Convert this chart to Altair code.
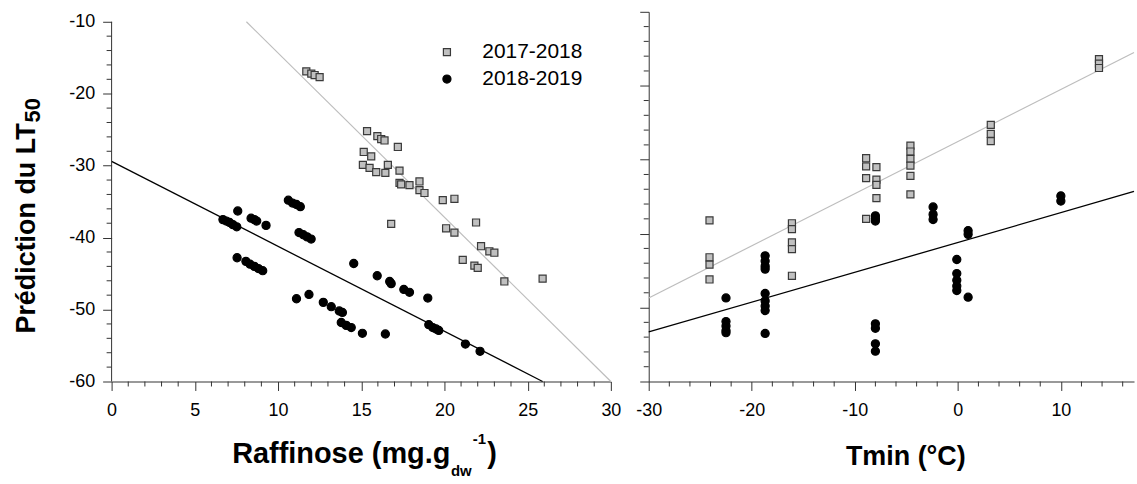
import altair as alt
import pandas as pd

FONT = "Liberation Sans"
SERIES = ["2017-2018", "2018-2019"]

# ---------------- left panel : Raffinose ----------------
raf_1718 = [11.7, 12.0, 12.2, 12.5, 15.35, 15.97, 16.2, 16.4, 17.2,
            15.15, 15.6, 15.1, 15.5, 15.9, 16.45, 16.6, 17.3,
            17.3, 17.4, 17.9, 18.5, 18.5, 18.8,
            19.9, 20.6, 16.8, 21.9, 20.1, 20.6,
            22.2, 22.7, 23.0, 21.1, 21.8, 22.0, 23.6, 25.9]
lt_raf_1718 = [-16.9, -17.2, -17.4, -17.7, -25.2, -25.9, -26.3, -26.5, -27.4,
               -28.1, -28.7, -29.9, -30.3, -30.9, -31.0, -29.9, -30.7,
               -32.4, -32.6, -32.7, -32.2, -33.4, -33.8,
               -34.8, -34.6, -38.1, -37.9, -38.7, -39.3,
               -41.2, -41.9, -42.1, -43.1, -43.9, -44.2, -46.1, -45.7]
raf_1819 = [6.69, 6.89, 7.09, 7.29, 7.52, 7.58, 8.38, 8.58, 8.72, 9.28,
            10.62, 10.87, 11.11, 11.34, 11.26, 11.52, 11.75, 11.99,
            7.54, 8.07, 8.32, 8.58, 8.82, 9.08, 14.55,
            11.11, 11.86, 12.72, 13.2, 13.68, 13.87,
            13.8, 14.1, 14.4, 15.07, 16.45,
            15.96, 16.71, 16.8, 17.56, 17.9, 19.0,
            19.06, 19.3, 19.5, 19.66, 21.26, 22.14]
lt_raf_1819 = [-37.5, -37.7, -37.9, -38.2, -38.5, -36.3, -37.3, -37.5, -37.7, -38.3,
               -34.8, -35.2, -35.4, -35.7, -39.3, -39.6, -39.9, -40.2,
               -42.8, -43.3, -43.7, -44.0, -44.3, -44.6, -43.6,
               -48.5, -47.9, -49.0, -49.6, -50.2, -50.4,
               -51.8, -52.2, -52.5, -53.3, -53.4,
               -45.3, -46.1, -46.4, -47.2, -47.6, -48.4,
               -52.1, -52.5, -52.7, -52.9, -54.8, -55.8]

# ---------------- right panel : Tmin ----------------
tmin_1718 = [-24.1, -24.1, -24.1, -24.1,
             -16.1, -16.1, -16.1, -16.1, -16.1,
             -8.9, -8.9, -8.9, -8.9,
             -7.9, -7.9, -7.9, -7.9,
             -4.6, -4.6, -4.6, -4.6, -4.6, -4.6,
             3.2, 3.2, 3.2,
             13.7, 13.7, 13.7]
lt_tmin_1718 = [-38.2, -43.2, -44.2, -46.2,
                -38.6, -39.4, -41.2, -42.1, -45.7,
                -29.8, -30.9, -32.5, -38.0,
                -31.0, -32.7, -33.4, -35.2,
                -28.1, -28.9, -29.9, -30.8, -32.2, -34.7,
                -25.3, -26.5, -27.5,
                -16.4, -17.0, -17.6]
tmin_1819 = [-22.5, -22.5, -22.5, -22.5, -22.5,
             -18.7, -18.7, -18.7, -18.7, -18.7, -18.7, -18.7, -18.7, -18.7,
             -8.0, -8.0, -8.0, -8.0, -8.0, -8.0, -8.0,
             -2.4, -2.4, -2.4,
             -0.1, -0.1, -0.1, -0.1, -0.1,
             1.0, 1.0, 1.0,
             10.0, 10.0]
lt_tmin_1819 = [-48.7, -51.9, -52.5, -53.1, -53.4,
                -43.0, -43.7, -44.4, -44.8, -48.1, -49.1, -49.8, -50.4, -53.5,
                -37.6, -38.0, -38.3, -52.2, -52.8, -54.9, -55.9,
                -36.4, -37.4, -38.1,
                -43.5, -45.4, -46.3, -47.1, -47.7,
                -39.6, -40.1, -48.6,
                -34.9, -35.6]

# ---------------- regression lines (end points) ----------------
fit_raf_x_1718 = [8.1, 30.0]
fit_raf_y_1718 = [-10.0, -60.0]
fit_raf_x_1819 = [0.0, 25.9]
fit_raf_y_1819 = [-29.4, -60.0]
fit_tmin_x_1718 = [-30.0, 17.1]
fit_tmin_y_1718 = [-48.7, -15.5]
fit_tmin_x_1819 = [-30.0, 17.1]
fit_tmin_y_1819 = [-53.3, -34.3]

# ---------------- ticks ----------------
raf_ticks = [0, 5, 10, 15, 20, 25, 30]
raf_minor = [v for v in range(1, 30) if v % 5]
tmin_ticks = [-30, -20, -10, 0, 10]
tmin_minor = [v for v in range(-28, 18, 2) if v % 10]
lt_ticks = [-60, -50, -40, -30, -20, -10]
lt_minor = [v for v in range(-58, -10, 2) if v % 10]

H = 371
W1 = 501
W2 = 487
AX = "#333333"


def pts_df(x1, y1, x2, y2):
    return pd.DataFrame({
        "x": x1 + x2,
        "y": y1 + y2,
        "series": [SERIES[0]] * len(x1) + [SERIES[1]] * len(x2),
    })


def text_layer(txt, x, y, size, angle=0, align="left"):
    kw = dict(font=FONT, fontSize=size, fontWeight="bold", color="black",
              align=align, baseline="alphabetic")
    if angle:
        kw["angle"] = angle
    return alt.Chart(pd.DataFrame({"t": [txt]})).mark_text(**kw).encode(
        text="t:N", x=alt.value(x), y=alt.value(y))


def panel(df, fits, xdom, xticks, xminor, W, ydom, left):
    xs = alt.Scale(domain=xdom, nice=False, zero=False)
    ys = alt.Scale(domain=ydom, nice=False, zero=False)
    xaxis = alt.Axis(values=xticks, title=None, labelExpr="'' + datum.value",
                     tickSize=9, labelPadding=11, labelFlush=False)
    if left:
        yaxis = alt.Axis(values=lt_ticks, title=None, domain=False,
                         labelExpr="'' + datum.value", tickSize=9, labelPadding=8)
        leg = alt.Legend(orient="none", legendX=326, legendY=30, title=None,
                         labelFontSize=21, labelFont=FONT, labelColor="black",
                         labelOffset=25, rowPadding=5, padding=0,
                         symbolStrokeWidth=1.2)
    else:
        yaxis = alt.Axis(values=lt_ticks, title=None, labels=False, tickSize=9)
        leg = None

    X = lambda f: alt.X(f, scale=xs, axis=xaxis)
    Y = lambda f: alt.Y(f, scale=ys, axis=yaxis)

    layers = []
    for (fx, fy), col, w in zip(fits, ["#bdbdbd", "#000000"], [1.2, 1.3]):
        layers.append(
            alt.Chart(pd.DataFrame({"x": fx, "y": fy})).mark_line(
                color=col, strokeWidth=w).encode(x=X("x:Q"), y=Y("y:Q")))

    layers.append(
        alt.Chart(df).mark_point(filled=True, opacity=1, strokeWidth=1.2).encode(
            x=X("x:Q"),
            y=Y("y:Q"),
            fill=alt.Fill("series:N", scale=alt.Scale(domain=SERIES, range=["#c0c0c0", "#000000"]), legend=leg),
            stroke=alt.Stroke("series:N", scale=alt.Scale(domain=SERIES, range=["#3a3a3a", "#000000"]), legend=leg),
            shape=alt.Shape("series:N", scale=alt.Scale(domain=SERIES, range=["square", "circle"]), legend=leg),
            size=alt.Size("series:N", scale=alt.Scale(domain=SERIES, range=[50, 66]), legend=leg),
        ))

    # minor ticks
    layers.append(
        alt.Chart(pd.DataFrame({"v": xminor})).mark_rule(color=AX, strokeWidth=1).encode(
            x=X("v:Q"), y=alt.value(H), y2=alt.value(H + 5)))
    layers.append(
        alt.Chart(pd.DataFrame({"v": lt_minor})).mark_rule(color=AX, strokeWidth=1).encode(
            y=Y("v:Q"), x=alt.value(0), x2=alt.value(-5)))

    if left:
        layers.append(
            alt.Chart(pd.DataFrame({"a": [0]})).mark_rule(color=AX, strokeWidth=1).encode(
                x=X("a:Q"),
                y=alt.datum(lt_ticks[0]), y2=alt.datum(lt_ticks[-1])))
        layers.append(text_layer("Prédiction du LT", -77, 112, 27, angle=270, align="right"))
        layers.append(text_layer("50", -72, 111, 22, angle=270, align="left"))
        layers.append(text_layer("Raffinose (mg.g", 121, 453, 29))
        layers.append(text_layer("dw", 340.5, 466, 15))
        layers.append(text_layer("-1", 362.5, 434, 15))
        layers.append(text_layer(")", 377, 453, 29))
    else:
        layers.append(text_layer("Tmin (°C)", 258, 455, 27, align="center"))

    return alt.layer(*layers).properties(width=W, height=H)


left = panel(pts_df(raf_1718, lt_raf_1718, raf_1819, lt_raf_1819),
             [(fit_raf_x_1718, fit_raf_y_1718), (fit_raf_x_1819, fit_raf_y_1819)],
             [0, 30], raf_ticks, raf_minor, W1, [-60, -10 + 10 / 7.22], True)
right = panel(pts_df(tmin_1718, lt_tmin_1718, tmin_1819, lt_tmin_1819),
              [(fit_tmin_x_1718, fit_tmin_y_1718), (fit_tmin_x_1819, fit_tmin_y_1819)],
              [-30, 17.1], tmin_ticks, tmin_minor, W2, [-60, -10], False)

chart = alt.hconcat(left, right, spacing=38, bounds="flush").resolve_scale(
    fill="independent", stroke="independent", shape="independent", size="independent"
).properties(
    padding={"left": 13, "top": 10, "right": 0, "bottom": 0}
).configure_view(strokeWidth=0).configure_axis(
    labelFont=FONT, labelFontSize=18, labelColor="black",
    domainColor=AX, tickColor=AX, grid=False, domainWidth=1, tickWidth=1
)

chart.save("out.html", embed_options={"renderer": "svg", "actions": False})
